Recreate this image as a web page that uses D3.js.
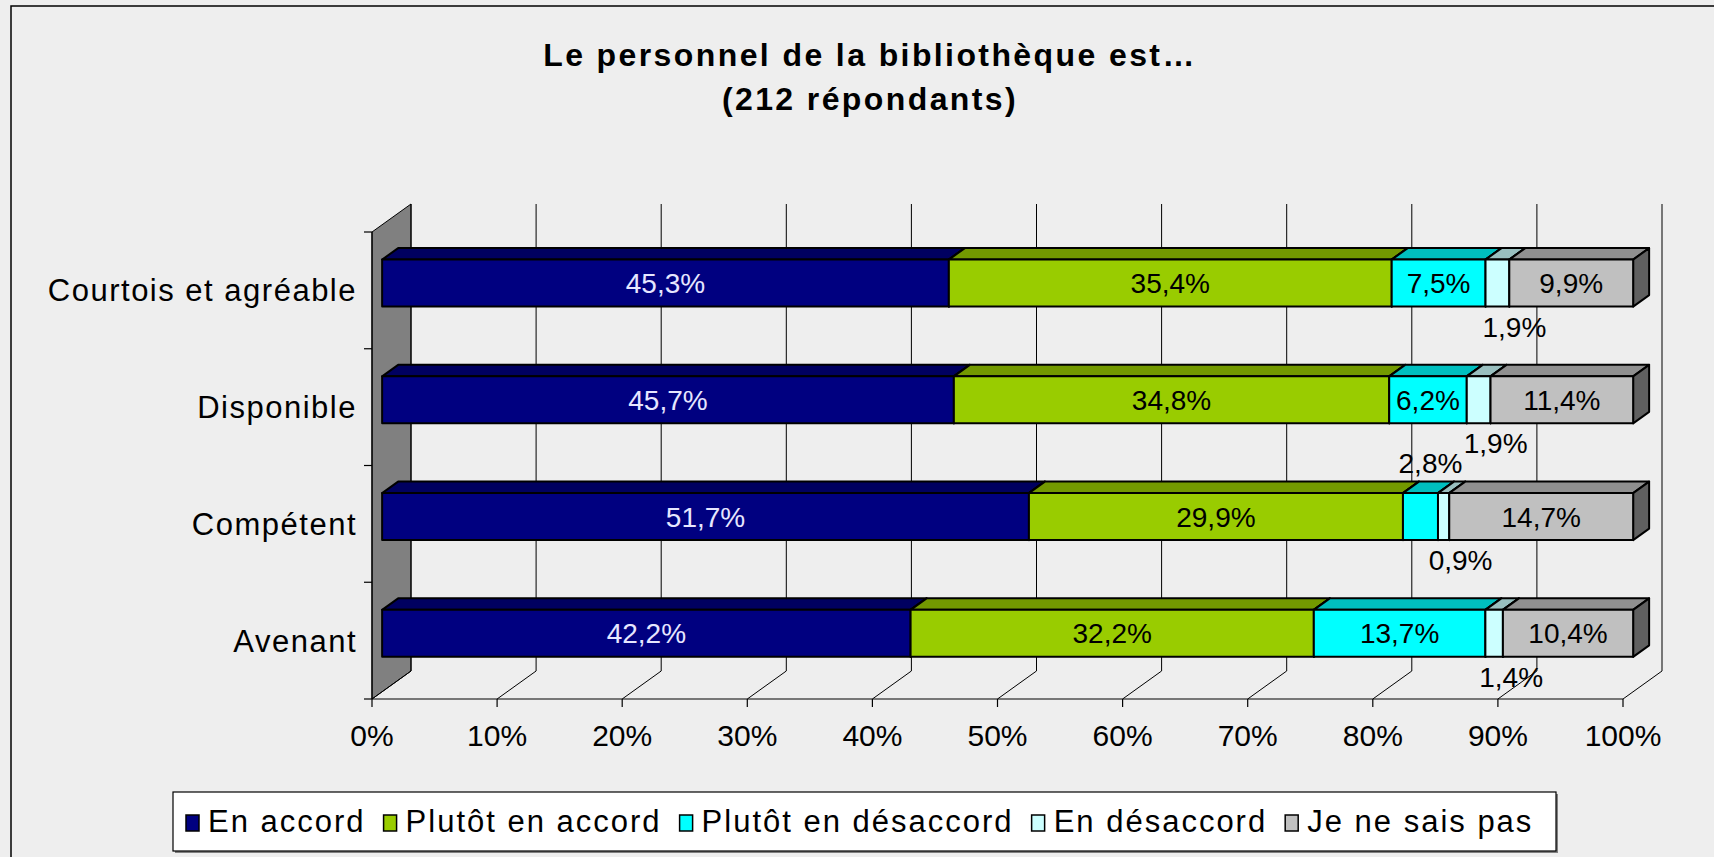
<!DOCTYPE html>
<html>
<head>
<meta charset="utf-8">
<script src="https://cdn.jsdelivr.net/npm/d3@7"></script>
<style>
  html, body { margin: 0; padding: 0; background: #eeeeee; overflow: hidden; }
  svg { display: block; font-family: "Liberation Sans", Arial, sans-serif; }
</style>
</head>
<body>
<div id="container"></div>
<script>
// Chart data
const categories = ["Courtois et agréable", "Disponible", "Compétent", "Avenant"];
const seriesNames = ["En accord", "Plutôt en accord", "Plutôt en désaccord", "En désaccord", "Je ne sais pas"];
const enAccord = [45.3, 45.7, 51.7, 42.2];
const plutotEnAccord = [35.4, 34.8, 29.9, 32.2];
const plutotEnDesaccord = [7.5, 6.2, 2.8, 13.7];
const enDesaccord = [1.9, 1.9, 0.9, 1.4];
const neSaisPas = [9.9, 11.4, 14.7, 10.4];
const xTickValues = [0, 0.1, 0.2, 0.3, 0.4, 0.5, 0.6, 0.7, 0.8, 0.9, 1];

// Styles
const faceColors = ["#000080", "#99cc00", "#00ffff", "#ccffff", "#c0c0c0"];
const topColors = ["#000060", "#739900", "#00bfbf", "#99bfbf", "#909090"];
const sideColors = ["#000040", "#4d6600", "#008080", "#668080", "#606060"];
const labelColors = ["#e6e6ff", "#000", "#000", "#000", "#000"];

const width = 1714, height = 857;

// Build rows for the stack
const table = categories.map((c, i) => ({
  cat: c,
  [seriesNames[0]]: enAccord[i],
  [seriesNames[1]]: plutotEnAccord[i],
  [seriesNames[2]]: plutotEnDesaccord[i],
  [seriesNames[3]]: enDesaccord[i],
  [seriesNames[4]]: neSaisPas[i]
}));
const stacked = d3.stack().keys(seriesNames).offset(d3.stackOffsetExpand)(table);

// Scales (front plane of the 3D box)
const x = d3.scaleLinear().domain([0, 1]).range([372, 1623]);
const y = d3.scaleBand().domain(categories).range([232, 699]);

// 3D depth of the floor, and where the bars sit inside it
const DX = 39, DY = 28;
const z0 = 0.26, z1 = 0.67;
const barHalf = 23.5;
const px = (v, z) => x(v) + z * DX;

const fr = d3.formatLocale({ decimal: ",", thousands: " ", grouping: [3], currency: ["", "€"] });
const fmt = fr.format(".1f");

const svg = d3.create("svg").attr("width", width).attr("height", height);
document.getElementById("container").append(svg.node());

// Chart area frame
svg.append("rect")
  .attr("x", 11).attr("y", 6)
  .attr("width", width + 20).attr("height", height + 20)
  .attr("fill", "#eeeeee").attr("stroke", "#000").attr("stroke-width", 1.5);

// Title
const title = svg.append("text")
  .attr("text-anchor", "middle")
  .attr("font-weight", "bold")
  .attr("font-size", 32)
  .attr("letter-spacing", 2.4)
  .attr("fill", "#000");
title.append("tspan").attr("x", 870).attr("y", 66).text("Le personnel de la bibliothèque est…");
title.append("tspan").attr("x", 870).attr("y", 110).text("(212 répondants)");

const [yTop, yBot] = y.range();

// Side wall
svg.append("polygon")
  .attr("points", [[px(0, 0), yTop], [px(0, 1), yTop - DY], [px(0, 1), yBot - DY], [px(0, 0), yBot]].join(" "))
  .attr("fill", "#808080").attr("stroke", "#000").attr("stroke-width", 1);

// Gridlines on the back wall and floor
const grid = svg.append("g").attr("stroke", "#000").attr("stroke-width", 1).attr("fill", "none");
xTickValues.forEach(t => {
  grid.append("path")
    .attr("d", `M${px(t, 1)},${yTop - DY}V${yBot - DY}L${px(t, 0)},${yBot}`);
});

// Front axes
const axes = svg.append("g").attr("stroke", "#000").attr("stroke-width", 1.2);
axes.append("line").attr("x1", x(0)).attr("x2", x(1)).attr("y1", yBot).attr("y2", yBot);
axes.append("line").attr("x1", x(0)).attr("x2", x(0)).attr("y1", yTop).attr("y2", yBot);
xTickValues.forEach(t => {
  axes.append("line").attr("x1", x(t)).attr("x2", x(t)).attr("y1", yBot).attr("y2", yBot + 8);
});
categories.concat([null]).forEach(c => {
  const yy = c ? y(c) : yBot;
  axes.append("line").attr("x1", x(0) - 8).attr("x2", x(0)).attr("y1", yy).attr("y2", yy);
});

// Tick labels
svg.append("g").selectAll("text")
  .data(xTickValues)
  .join("text")
  .attr("x", d => x(d))
  .attr("y", 746)
  .attr("text-anchor", "middle")
  .attr("font-size", 30)
  .text(d3.format(".0%"));

// Category labels
svg.append("g").selectAll("text")
  .data(categories)
  .join("text")
  .attr("x", 357)
  .attr("y", d => y(d) + y.bandwidth() / 2 + 11)
  .attr("text-anchor", "end")
  .attr("font-size", 31)
  .attr("letter-spacing", 1.5)
  .text(d => d);

// Bars
const bars = svg.append("g").attr("stroke", "#000").attr("stroke-width", 2).attr("stroke-linejoin", "round");
const labels = svg.append("g").attr("font-size", 28).attr("text-anchor", "middle");

categories.forEach((c, ci) => {
  const bc = y(c) + y.bandwidth() / 2;
  const yt = bc - barHalf - z0 * DY;
  const yb = bc + barHalf - z0 * DY;
  const tdx = (z1 - z0) * DX, tdy = (z1 - z0) * DY;
  stacked.forEach((s, si) => {
    const [v0, v1] = s[ci];
    const xa = px(v0, z0), xb = px(v1, z0);
    bars.append("polygon")
      .attr("points", [[xa, yt], [xa + tdx, yt - tdy], [xb + tdx, yt - tdy], [xb, yt]].join(" "))
      .attr("fill", topColors[si]);
    bars.append("polygon")
      .attr("points", [[xb, yt], [xb + tdx, yt - tdy], [xb + tdx, yb - tdy], [xb, yb]].join(" "))
      .attr("fill", sideColors[si]);
    bars.append("rect")
      .attr("x", xa).attr("y", yt)
      .attr("width", xb - xa).attr("height", yb - yt)
      .attr("fill", faceColors[si]);

    // Small segments get their label outside the bar
    const val = s[ci].data[s.key];
    const cx = (xa + xb) / 2;
    let lx = cx, ly = (yt + yb) / 2 + 10, col = labelColors[si];
    if (val < 5) {
      col = "#000";
      if (si === 2) { lx = cx + 10; ly = yt - 20; }
      else { lx = cx + 17; ly = yb + 30; }
    }
    labels.append("text")
      .attr("x", lx).attr("y", ly)
      .attr("fill", col)
      .text(fmt(val) + "%");
  });
});
labels.raise();

// Legend
const legend = svg.append("g");
legend.append("rect")
  .attr("x", 175).attr("y", 794).attr("width", 1383).attr("height", 59)
  .attr("fill", "#808080");
legend.append("rect")
  .attr("x", 173).attr("y", 792).attr("width", 1383).attr("height", 59)
  .attr("fill", "#fff").attr("stroke", "#000").attr("stroke-width", 1.2);

let lx = 186;
seriesNames.forEach((name, i) => {
  legend.append("rect")
    .attr("x", lx).attr("y", 815).attr("width", 13).attr("height", 16)
    .attr("fill", faceColors[i]).attr("stroke", "#000").attr("stroke-width", 1.5);
  const t = legend.append("text")
    .attr("x", lx + 22).attr("y", 832)
    .attr("font-size", 31)
    .attr("letter-spacing", 2)
    .text(name);
  lx += 22 + t.node().getBBox().width + 18;
});
</script>
</body>
</html>
